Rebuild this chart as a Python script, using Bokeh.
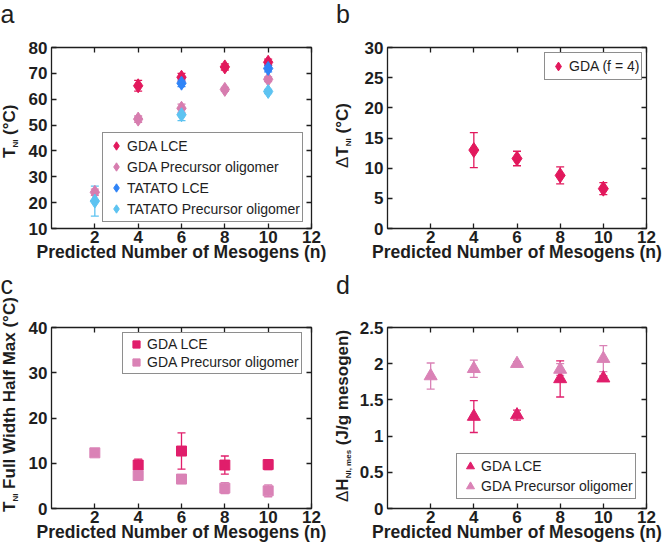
from bokeh.plotting import figure
from bokeh.models import (ColumnDataSource, Whisker, TeeHead, Range1d, FixedTicker,
                          LinearAxis, Legend, LegendItem, Div)
from bokeh.layouts import column, row
from bokeh.embed import file_html
from bokeh.resources import INLINE

# ---------------- data ----------------
x_ticks = [2, 4, 6, 8, 10, 12]
x_tick_labels = ["2", "4", "6", "8", "10", "12"]
a_y_ticks = [10, 20, 30, 40, 50, 60, 70, 80]
a_y_tick_labels = ["10", "20", "30", "40", "50", "60", "70", "80"]
b_y_ticks = [0, 5, 10, 15, 20, 25, 30]
b_y_tick_labels = ["0", "5", "10", "15", "20", "25", "30"]
c_y_ticks = [0, 10, 20, 30, 40]
c_y_tick_labels = ["0", "10", "20", "30", "40"]
d_y_ticks = [0, 0.5, 1, 1.5, 2, 2.5]
d_y_tick_labels = ["0", "0.5", "1", "1.5", "2", "2.5"]

# panel a: T_NI (deg C)
a_gda_lce_n = [4, 6, 8, 10]
a_gda_lce_t = [65.2, 68.5, 72.5, 74.3]
a_gda_lce_err = [2.1, 1.5, 1.2, 1.2]
a_gda_pre_n = [2, 4, 6, 8, 10]
a_gda_pre_t = [24.0, 52.3, 56.5, 63.8, 67.7]
a_gda_pre_err = [1.2, 1.2, 1.6, 0.8, 0.9]
a_tat_lce_n = [6, 10]
a_tat_lce_t = [66.2, 71.9]
a_tat_lce_err = [1.3, 1.3]
a_tat_pre_n = [2, 6, 10]
a_tat_pre_t = [20.6, 54.0, 63.0]
a_tat_pre_err = [5.8, 2.3, 0.8]

# panel b: delta T_NI
b_n = [4, 6, 8, 10]
b_dt = [13.0, 11.6, 8.8, 6.6]
b_err = [2.9, 1.2, 1.4, 1.0]

# panel c: FWHM
c_lce_n = [4, 6, 8, 10]
c_lce_w = [9.6, 12.7, 9.6, 9.7]
c_lce_err = [1.3, 4.0, 2.0, 1.1]
c_pre_n = [2, 4, 6, 8, 10]
c_pre_w = [12.3, 7.3, 6.5, 4.5, 3.9]
c_pre_err = [0.8, 0.9, 0.9, 1.2, 1.3]

# panel d: delta H
d_lce_n = [4, 6, 8, 10]
d_lce_h = [1.27, 1.29, 1.79, 1.80]
d_lce_err = [0.22, 0.07, 0.25, 0.03]
d_pre_n = [2, 4, 6, 8, 10]
d_pre_h = [1.83, 1.93, 2.00, 1.92, 2.07]
d_pre_err = [0.18, 0.12, 0.03, 0.08, 0.18]

# ---------------- style ----------------
FONT = "Liberation Sans"
INK = "#1e1e1e"
C_LCE = "#E2185C"
C_PRE = "#D77DAF"
C_TAT_LCE = "#2F84F7"
C_TAT_PRE = "#5DC3F1"
C_LCE2 = "#E01E6B"
C_PRE2 = "#DA82B6"
X_LO, X_HI = 0, 12
XLABEL = "Predicted Number of Mesogens (n)"
STRIP = 20
LETTER_PX = 25


def make_fig(w, h, bl, br, bt, bb, ylo, yhi, yticks, ylabels):
    p = figure(width=w, height=h, x_range=Range1d(X_LO, X_HI), y_range=Range1d(ylo, yhi),
               output_backend="svg", toolbar_location=None,
               x_axis_location=None, y_axis_location=None,
               min_border_left=bl, min_border_right=br,
               min_border_top=bt, min_border_bottom=bb)
    p.xgrid.visible = False
    p.ygrid.visible = False
    p.outline_line_color = INK
    p.outline_line_width = 1.3
    p.background_fill_color = "white"
    p.border_fill_color = "white"
    for loc, ticks, labels, show in [("below", x_ticks, x_tick_labels, True),
                                      ("above", x_ticks, x_tick_labels, False),
                                      ("left", yticks, ylabels, True),
                                      ("right", yticks, ylabels, False)]:
        ax = LinearAxis(ticker=FixedTicker(ticks=ticks),
                        major_label_overrides=dict(zip(ticks, labels)))
        ax.axis_line_color = None
        ax.major_tick_in = 5
        ax.major_tick_out = 0
        ax.minor_tick_in = 0
        ax.minor_tick_out = 0
        ax.major_tick_line_color = INK
        ax.major_tick_line_width = 1.3
        if show:
            ax.major_label_text_font = FONT
            ax.major_label_text_font_style = "bold"
            ax.major_label_text_color = INK
            ax.major_label_text_font_size = "17px"
            ax.major_label_standoff = 2 if loc == "below" else 4
        else:
            ax.major_label_text_alpha = 0
            ax.major_label_text_font_size = "1px"
            ax.major_label_standoff = 0
        if loc == "below":
            ax.axis_label = XLABEL
            ax.axis_label_text_font = FONT
            ax.axis_label_text_font_style = "bold"
            ax.axis_label_text_font_size = "17.5px"
            ax.axis_label_text_color = INK
            ax.axis_label_standoff = -4
        p.add_layout(ax, loc)
    return p


def series(p, n, v, e, color, marker, size):
    src = ColumnDataSource(dict(x=n, y=v, lower=[a - b for a, b in zip(v, e)],
                                upper=[a + b for a, b in zip(v, e)]))
    w = Whisker(source=src, base="x", lower="lower", upper="upper", dimension="height",
                line_color=color, line_width=1.3,
                upper_head=TeeHead(size=8, line_color=color, line_width=1.3),
                lower_head=TeeHead(size=8, line_color=color, line_width=1.3))
    p.add_layout(w)
    return p.scatter(x="x", y="y", source=src, marker=marker, size=size,
                     fill_color=color, line_color=color)


def legend(p, items, vx, vy, gh):
    lg = Legend(items=[LegendItem(label=t, renderers=[r]) for t, r in items],
                location=(vx, vy), padding=2, spacing=0, margin=0,
                glyph_width=22, glyph_height=gh, label_height=gh, label_standoff=0,
                border_line_color=INK, border_line_width=1.3, background_fill_color="white",
                background_fill_alpha=1.0, label_text_font=FONT, label_text_font_size="14px",
                label_text_color=INK)
    p.add_layout(lg)


SUB = '<span style="font-size:8px;position:relative;top:2.5px;">{}</span>'
THIN = '<span style="font-weight:normal;">{}</span>'


def side_strip(h, letter, letter_left, letter_base, label_html, label_base_x, label_start_y):
    # Liberation Sans: ascent 0.905 em, descent 0.212 em
    lh = LETTER_PX
    lt = letter_base - ((lh - 1.117 * LETTER_PX) / 2 + 0.905 * LETTER_PX)
    ll = label_base_x - 0.8465 * 17
    html = (f'<div style="position:relative;width:{STRIP}px;height:{h}px;">'
            f'<div style="position:absolute;left:{letter_left}px;top:{lt:.2f}px;'
            f'font-family:\'{FONT}\';font-size:{LETTER_PX}px;line-height:{lh}px;color:{INK};">{letter}</div>'
            f'<div style="position:absolute;left:{ll:.2f}px;top:{label_start_y}px;'
            f'transform-origin:0 0;transform:rotate(-90deg);white-space:nowrap;'
            f'font-family:\'{FONT}\';font-weight:bold;font-size:17px;line-height:17px;color:{INK};">'
            f'{label_html}</div></div>')
    return Div(text=html, width=STRIP, height=h, margin=0)


TOP_H, BOT_H = 266, 278
FW = 333 - STRIP

# ---- panel a ----
pa = make_fig(FW, TOP_H, 51 - STRIP, 22, 47, 38, 10, 80, a_y_ticks, a_y_tick_labels)
r1 = series(pa, a_gda_lce_n, a_gda_lce_t, a_gda_lce_err, C_LCE, "diamond", 14)
r2 = series(pa, a_gda_pre_n, a_gda_pre_t, a_gda_pre_err, C_PRE, "diamond", 14)
r3 = series(pa, a_tat_lce_n, a_tat_lce_t, a_tat_lce_err, C_TAT_LCE, "diamond", 14)
r4 = series(pa, a_tat_pre_n, a_tat_pre_t, a_tat_pre_err, C_TAT_PRE, "diamond", 14)
legend(pa, [("GDA LCE", r1), ("GDA Precursor oligomer", r2), ("TATATO LCE", r3),
            ("TATATO Precursor oligomer", r4)], 51, 6, 21)
sa = side_strip(TOP_H, "a", 0.5, 23.5, "T" + SUB.format("NI") + " (°C)", 15, 158)

# ---- panel b ----
pb = make_fig(FW, TOP_H, 54 - STRIP, 20, 47, 38, 0, 30, b_y_ticks, b_y_tick_labels)
rb = series(pb, b_n, b_dt, b_err, C_LCE, "diamond", 15)
legend(pb, [("GDA (f = 4)", rb)], 157, 148, 22)
sb = side_strip(TOP_H, "b", 3, 23.5, THIN.format("Δ") + "T" + SUB.format("NI") + " (°C)", 15, 168)

# ---- panel c ----
pc = make_fig(FW, BOT_H, 51 - STRIP, 22, 61, 36, 0, 40, c_y_ticks, c_y_tick_labels)
rc1 = series(pc, c_lce_n, c_lce_w, c_lce_err, C_LCE2, "square", 10)
rc2 = series(pc, c_pre_n, c_pre_w, c_pre_err, C_PRE2, "square", 10)
legend(pc, [("GDA LCE", rc1), ("GDA Precursor oligomer", rc2)], 71, 134, 18)
sc = side_strip(BOT_H, "c", 0.5, 27.7, "T" + SUB.format("NI") + " Full Width Half Max (°C)", 15, 246)

# ---- panel d ----
pd_ = make_fig(FW, BOT_H, 54 - STRIP, 20, 61, 36, 0, 2.5, d_y_ticks, d_y_tick_labels)
rd1 = series(pd_, d_lce_n, d_lce_h, d_lce_err, C_LCE2, "triangle", 13)
rd2 = series(pd_, d_pre_n, d_pre_h, d_pre_err, C_PRE2, "triangle", 13)
legend(pd_, [("GDA LCE", rd1), ("GDA Precursor oligomer", rd2)], 69, 9, 20)
sd = side_strip(BOT_H, "d", 3, 27.7, THIN.format("Δ") + "H" + SUB.format("NI, mes") + " (J/g mesogen)", 15, 236)

layout = column(row(sa, pa, sb, pb), row(sc, pc, sd, pd_))
open("out.html", "w").write(file_html(layout, INLINE))
